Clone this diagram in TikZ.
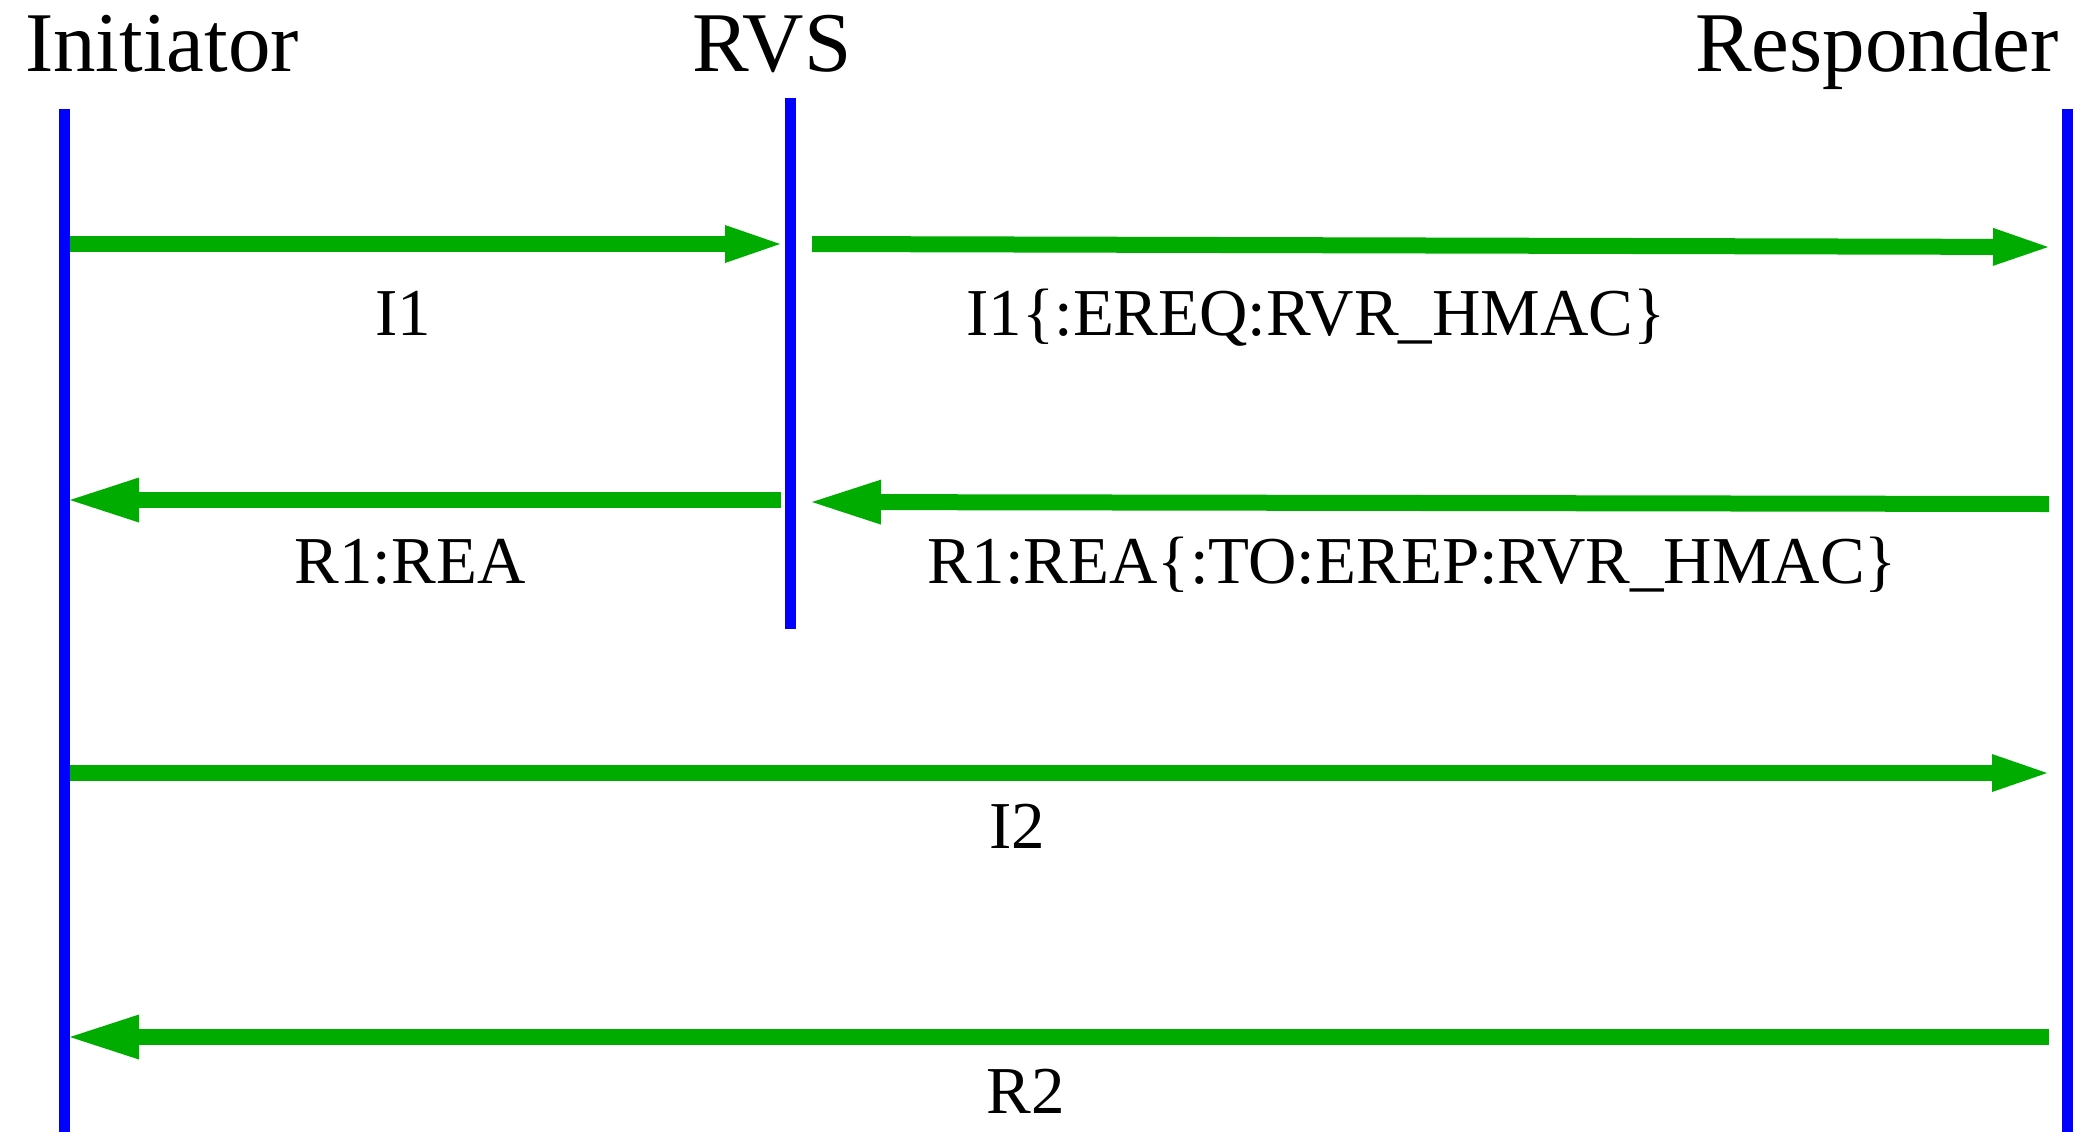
\documentclass[tikz,border=0pt]{standalone}
\usepackage{fontspec}
\setmainfont{Liberation Serif}
\usetikzlibrary{arrows.meta}
\definecolor{lifeblue}{RGB}{0,0,255}
\definecolor{msggreen}{RGB}{0,172,0}
\begin{document}
\begin{tikzpicture}[x=0.5pt,y=-0.5pt,
  lifeline/.style={color=lifeblue, line width=5.5pt},
  msgr/.style={color=msggreen, line width=8pt, -{Triangle[length=27.5pt,width=19pt,line width=0pt]}},
  msgl/.style={color=msggreen, line width=8pt, -{Triangle[length=34.5pt,width=22.5pt,line width=0pt]}},
  title/.style={font=\fontsize{42.5}{50}\selectfont, anchor=base, inner sep=0pt},
  lab/.style={font=\fontsize{33.5}{40}\selectfont, anchor=base, inner sep=0pt}]
\useasboundingbox (0,0) rectangle (2080,1131);
% titles
\node[title] (tI) at (162,71) {Initiator};
\node[title] (tV) at (772,71) {RVS};
\node[title] (tR) at (1877,71) {Responder};
% lifelines
\coordinate (Itop) at (64,109);
\coordinate (Ibot) at (64,1135);
\coordinate (Vtop) at (790,98);
\coordinate (Vbot) at (790,629);
\coordinate (Rtop) at (2067,109);
\coordinate (Rbot) at (2067,1135);
\draw[lifeline] (Itop) -- (Ibot);
\draw[lifeline] (Vtop) -- (Vbot);
\draw[lifeline] (Rtop) -- (Rbot);
% message end points
\coordinate (a1s) at (70,244);   \coordinate (a1e) at (780,244);
\coordinate (a2s) at (812,244);  \coordinate (a2e) at (2048,247);
\coordinate (a3s) at (781,500);  \coordinate (a3e) at (70,500);
\coordinate (a4s) at (2049,504); \coordinate (a4e) at (812,502);
\coordinate (a5s) at (70,773);   \coordinate (a5e) at (2047,773);
\coordinate (a6s) at (2049,1037);\coordinate (a6e) at (70,1037);
\draw[msgr] (a1s) -- (a1e);
\draw[msgr] (a2s) -- (a2e);
\draw[msgl] (a3s) -- (a3e);
\draw[msgl] (a4s) -- (a4e);
\draw[msgr] (a5s) -- (a5e);
\draw[msgl] (a6s) -- (a6e);
% labels
\node[lab] (l1) at (403,335) {I1};
\node[lab] (l2) at (1316,335) {I1\{:EREQ:RVR\_HMAC\}};
\node[lab] (l3) at (410,583) {R1:REA};
\node[lab] (l4) at (1412,583) {R1:REA\{:TO:EREP:RVR\_HMAC\}};
\node[lab] (l5) at (1017,848) {I2};
\node[lab] (l6) at (1026,1113) {R2};
\end{tikzpicture}
\end{document}
